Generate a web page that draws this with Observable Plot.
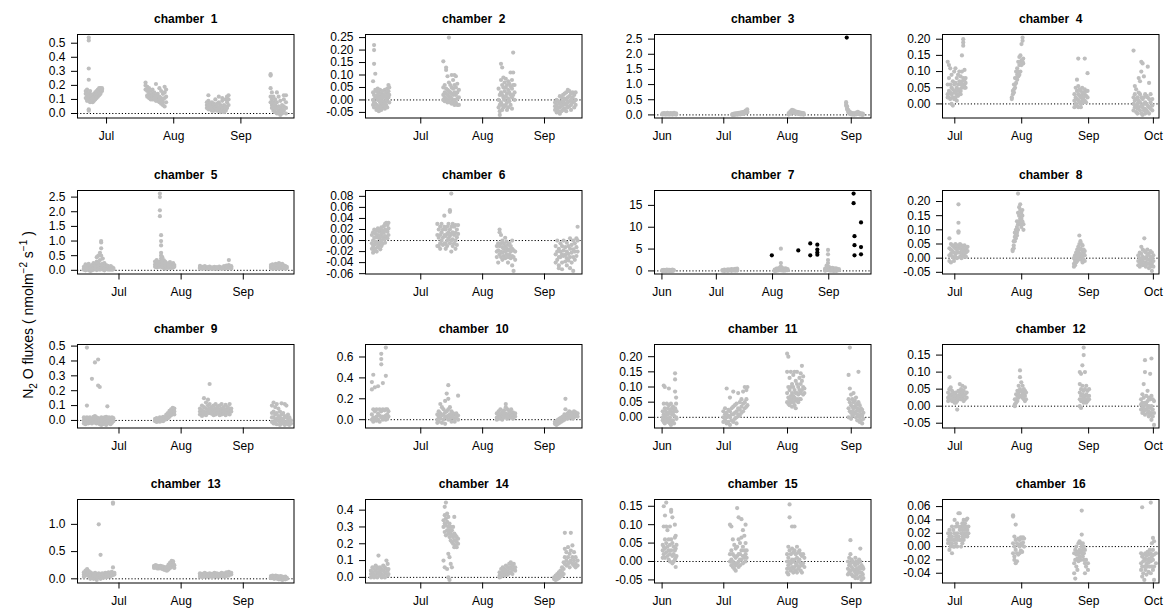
<!DOCTYPE html>
<html><head><meta charset="utf-8">
<script src="https://cdn.jsdelivr.net/npm/d3@7"></script>
<script src="https://cdn.jsdelivr.net/npm/@observablehq/plot@0.6"></script>
<style>
body{margin:0;background:#fff;}
#chart{position:relative;width:1164px;height:609px;overflow:hidden;font-family:"Liberation Sans",Arial,sans-serif;}
#chart svg{position:absolute;overflow:visible;}
</style></head><body><div id="chart"></div>
<script>
// day numbers counted from 1 June (Jun 1 = 0)
const monthDays = [0, 30, 61, 92, 122];
const monthNames = ["Jun", "Jul", "Aug", "Sep", "Oct"];
const titles = d3.range(1, 17).map(n => "chamber\u00a0 " + n);

// each row: [day, value, value, ...]
const c1 = [
[20.4,0.14,0.11,0.16],[21.0,0.12,0.15,0.09,0.17],[21.8,0.54,0.52,0.32,0.24,0.13,0.10,0.03,0.02],[22.4,0.11,0.14,0.08,0.16],
[23.0,0.09,0.12,0.10,0.13],[23.6,0.08,0.11,0.13,0.10],[24.2,0.09,0.12,0.10,0.14],[24.8,0.11,0.13,0.15,0.10],[25.4,0.12,0.14,0.16,0.11],
[26.0,0.13,0.15,0.17,0.12],[26.6,0.14,0.16,0.18,0.13],[27.2,0.15,0.17,0.18,0.14],[27.9,0.16,0.18,0.17],
[48.0,0.22,0.2,0.17],[48.8,0.19,0.16,0.13,0.12],[49.6,0.18,0.14,0.12,0.11],[50.4,0.16,0.13,0.11,0.10],[51.2,0.17,0.12,0.10,0.14],
[52.0,0.15,0.11,0.10,0.13],[52.8,0.21,0.12,0.10,0.09],[53.6,0.14,0.11,0.09,0.12],[54.4,0.18,0.10,0.08,0.12],[55.2,0.16,0.11,0.09,0.07],
[56.0,0.14,0.10,0.08,0.06],[56.8,0.19,0.15,0.11,0.05],[57.5,0.17,0.12,0.08],
[76.3,0.08,0.06,0.04],[77.0,0.13,0.09,0.07,0.05,0.03],[77.8,0.07,0.05,0.03,0.06],[78.6,0.06,0.04,0.02,0.08],[79.4,0.05,0.03,0.07,0.02],
[80.2,0.10,0.06,0.04,0.03],[81.0,0.05,0.03,0.02,0.07],[81.8,0.12,0.08,0.04,0.02],[82.6,0.06,0.03,0.01,0.05],[83.4,0.09,0.04,0.02,0.11],
[84.2,0.06,0.03,0.01,0.04],[85.0,0.10,0.05,0.02,0.03],[85.6,0.12,0.08,0.04],[86.3,0.13,0.10,0.06],
[105.7,0.28,0.27,0.18,0.12,0.08],[106.3,0.15,0.10,0.06,0.04],[107.0,0.12,0.08,0.05,0.02],[107.8,0.10,0.06,0.03,0.01],[108.6,0.15,0.08,0.04,0.0],
[109.4,0.12,0.05,0.02,0.0],[110.2,0.09,0.04,0.01,-0.01],[111.0,0.06,0.03,0.0],[111.8,0.13,0.10,0.05,0.02],[112.8,0.13,0.08,0.04,0.0]];
const c2 = [
[6.1,0.075,0.03,0.0,-0.02],[6.6,0.22,0.2,0.145,0.02,-0.01,-0.03],[7.2,0.105,0.04,0.01,-0.015],[7.8,0.035,0.01,-0.02,-0.04],[8.4,0.045,0.02,0.0,-0.03],
[9.0,0.03,0.005,-0.025,-0.045],[9.6,0.04,0.015,-0.01,-0.035],[10.2,0.025,0.0,-0.02,-0.04],[10.8,0.035,0.01,-0.015,-0.03],[11.4,0.02,-0.005,-0.025],
[12.0,0.04,0.015,-0.01,-0.035],[12.6,0.03,0.005,-0.02],[13.2,0.045,0.02,-0.005,-0.03],[13.8,0.06,0.035,0.01],[14.2,0.05,0.02,-0.01],
[41.3,0.155,0.05,0.02,0.0],[42.0,0.06,0.03,0.01,-0.005],[42.7,0.13,0.12,0.045,0.025,0.005],[43.4,0.095,0.04,0.02,0.0,-0.01],[44.1,0.25,0.07,0.035,0.015,-0.005],
[44.8,0.06,0.03,0.01,-0.01],[45.5,0.1,0.05,0.025,0.005,-0.015],[46.2,0.08,0.045,0.02,-0.01],[46.9,0.1,0.06,0.03,0.0,-0.02],[47.6,0.095,0.05,0.02,-0.01],
[48.3,0.065,0.03,0.005,-0.02],[49.1,0.04,0.01,-0.02],
[69.0,0.045,0.0,-0.03],[69.6,0.02,-0.02,-0.06,-0.045],[70.2,0.145,0.08,0.03,-0.01],[70.8,0.13,0.06,0.02,-0.02,-0.04],[71.4,0.09,0.05,0.01,-0.03],
[72.0,0.07,0.035,0.0,-0.025],[72.6,0.085,0.05,0.015,-0.02],[73.2,0.06,0.025,-0.01,-0.04],[73.8,0.075,0.04,0.005,-0.03],[74.4,0.065,0.03,-0.005],
[75.0,0.11,0.055,0.02,-0.02],[75.7,0.08,0.045,0.01,-0.035],[76.3,0.19,0.11,0.06,0.02],[77.0,0.06,0.03,0.0],
[97.3,-0.01,-0.025,-0.04],[98.1,0.0,-0.02,-0.035,-0.05],[98.9,-0.005,-0.03,-0.045],[99.7,0.015,-0.015,-0.03,-0.055],[100.5,0.01,-0.01,-0.025,-0.045],
[101.3,0.02,-0.005,-0.02,-0.04],[102.1,0.025,0.005,-0.015,-0.035],[102.9,0.03,0.0,-0.02,-0.045],[103.7,0.04,0.01,-0.01,-0.03],[104.5,0.035,0.015,-0.005,-0.025],
[105.3,0.025,0.0,-0.02,-0.04],[106.1,0.03,0.01,-0.01],[106.9,0.02,-0.005,-0.03],[107.6,0.03,0.0,-0.02]];
const c3 = [
[0.2,0.05,0.03,0.01],[1.0,0.06,0.04,0.02],[1.8,0.05,0.03,0.01],[2.6,0.07,0.04,0.02],[3.4,0.05,0.03,0.01],[4.2,0.06,0.04,0.02],[5.0,0.05,0.03,0.01],[5.8,0.07,0.04,0.02],[6.8,0.05,0.03,0.01],
[34.2,0.03,0.01,0.0],[35.0,0.04,0.02,0.0],[35.8,0.05,0.03,0.01],[36.6,0.06,0.03,0.01],[37.4,0.07,0.04,0.02],[38.2,0.08,0.05,0.02],[39.0,0.09,0.06,0.03],[39.8,0.1,0.07,0.04],[40.6,0.14,0.1,0.06],[41.4,0.18,0.12,0.08],
[61.6,0.06,0.03,0.01],[62.4,0.12,0.08,0.04],[63.2,0.17,0.13,0.09],[64.0,0.15,0.11,0.07],[64.8,0.12,0.09,0.05],[65.6,0.1,0.07,0.04],[66.4,0.09,0.06,0.03],[67.2,0.08,0.05,0.02],[68.0,0.07,0.04,0.02],[68.8,0.06,0.03,0.01],
[89.5,0.42,0.36,0.3],[90.0,0.28,0.22,0.18],[90.6,0.16,0.12,0.08],[91.3,0.1,0.06,0.03],[92.0,0.07,0.04,0.02],[92.8,0.06,0.03,0.01],[93.6,0.05,0.03,0.01],[94.4,0.08,0.04,0.02],[95.2,0.1,0.06,0.03],[96.0,0.07,0.04,0.02],[96.8,0.05,0.03,0.01],[97.6,0.04,0.02,0.0]];
const out3 = [[89.8, 2.55]];
const c4 = [
[26.7,0.13,0.06,0.03,0.02],[27.3,0.12,0.08,0.04,0.02],[27.9,0.11,0.06,0.035,0.015],[28.5,0.09,0.05,0.03,0.0],[29.1,0.07,0.045,0.02,-0.005],
[29.7,0.1,0.06,0.035,0.015],[30.3,0.11,0.065,0.04,0.02],[30.9,0.08,0.05,0.03,0.01],[31.5,0.09,0.06,0.04,0.025],[32.1,0.1,0.07,0.045,0.03],
[32.7,0.085,0.06,0.04,0.03],[33.3,0.15,0.1,0.07,0.05],[33.9,0.2,0.19,0.18,0.08,0.06],[34.5,0.105,0.075,0.06,0.05],[35.0,0.08,0.065,0.05],
[56.4,0.02,0.015],[56.9,0.04,0.03],[57.4,0.06,0.045,0.035],[57.9,0.08,0.06,0.05],[58.4,0.1,0.08,0.065],[58.9,0.11,0.09,0.075],
[59.4,0.13,0.1,0.085],[59.9,0.145,0.12,0.09],[60.4,0.15,0.13,0.1],[60.9,0.185,0.135,0.12],[61.4,0.205,0.195,0.13],[61.7,0.14,0.125],
[85.4,0.03,0.01,-0.01],[86.0,0.05,0.02,0.0],[86.6,0.075,0.04,0.015,-0.005],[87.2,0.14,0.055,0.03,0.01,-0.01],[87.8,0.045,0.025,0.005],
[88.4,0.04,0.02,0.0,-0.01],[89.0,0.05,0.03,0.01],[89.6,0.035,0.02,0.005],[90.2,0.14,0.045,0.03,0.01],[90.8,0.04,0.025,0.005],[91.5,0.095,0.04,0.02],
[112.8,0.165,0.02,0.0,-0.02],[113.4,0.055,0.03,0.01,-0.01],[114.0,0.045,0.015,-0.005,-0.025],[114.6,0.02,0.0,-0.015,-0.03],[115.2,0.08,0.035,0.01,-0.01],
[115.8,0.07,0.03,0.005,-0.02],[116.4,0.13,0.1,0.02,-0.005,-0.03],[117.0,0.125,0.015,-0.01,-0.034],[117.6,0.085,0.02,0.0,-0.02],[118.2,0.03,0.005,-0.015,-0.03],
[118.8,0.025,0.0,-0.02],[119.4,0.115,0.02,-0.005,-0.025],[120.0,0.065,0.015,-0.01,-0.03],[120.7,0.03,0.005,-0.015],[121.5,0.015,-0.005,-0.02]];
const c5 = [
[12.5,0.12,0.06,0.02],[13.3,0.2,0.1,0.04,0.0],[14.1,0.15,0.08,0.03],[14.9,0.22,0.12,0.05,0.01],[15.7,0.1,0.05,-0.02],[16.5,0.18,0.09,0.04,0.0],
[17.3,0.25,0.14,0.06,0.02],[18.1,0.2,0.1,0.04],[18.9,0.45,0.3,0.15,0.05,0.01],[19.7,0.5,0.25,0.12,0.04],[20.5,0.6,0.35,0.18,0.08,0.02],
[21.1,1.0,0.95,0.75,0.5,0.2,0.06],[21.9,0.4,0.22,0.1,0.03],[22.7,0.25,0.12,0.05,0.0],[23.5,0.18,0.1,0.04],[24.3,0.15,0.08,0.03],
[25.1,0.12,0.06,0.02],[25.9,0.14,0.08,0.03],[26.6,0.1,0.05,0.02],[27.2,0.08,0.04],
[48.0,0.3,0.2,0.12],[48.8,0.35,0.22,0.15,0.1],[49.6,0.28,0.18,0.12],[50.4,2.62,2.5,2.05,1.85,0.3,0.2,0.12],[51.0,1.2,1.0,0.85,0.6,0.5,0.4,0.25,0.15],
[51.6,0.45,0.3,0.2,0.1],[52.3,0.35,0.25,0.15,0.08],[53.0,0.3,0.2,0.12,0.06],[53.8,0.25,0.16,0.1],[54.6,0.22,0.15,0.08],[55.4,0.28,0.18,0.1],
[56.2,0.2,0.14,0.08],[57.0,0.25,0.16,0.1],[57.6,0.18,0.12],
[70.4,0.15,0.1,0.06],[71.6,0.12,0.08,0.05],[72.8,0.14,0.1,0.06],[74.0,0.11,0.08,0.05],[75.2,0.13,0.09,0.06],[76.4,0.1,0.07,0.05],[77.6,0.12,0.08,0.05],
[78.8,0.11,0.08,0.05],[80.0,0.13,0.09,0.06],[81.2,0.1,0.07,0.05],[82.4,0.14,0.1,0.06],[83.6,0.16,0.11,0.07],[84.8,0.35,0.18,0.12,0.08],[86.0,0.14,0.1,0.06],
[105.8,0.18,0.12,0.08],[106.6,0.2,0.14,0.09,0.05],[107.4,0.16,0.11,0.07],[108.2,0.22,0.15,0.1,0.06],[109.0,0.18,0.12,0.08],[109.8,0.25,0.16,0.1,0.05],
[110.6,0.2,0.13,0.08],[111.4,0.22,0.15,0.1,0.06],[112.2,0.17,0.12,0.07],[113.0,0.14,0.09,0.05],[113.7,0.12,0.08]];
const c6 = [
[5.5,0.01,-0.005,-0.015],[6.1,0.015,0.0,-0.01,-0.022],[6.7,0.02,0.005,-0.008,-0.018],[7.3,0.012,-0.002,-0.015],[7.9,0.018,0.006,-0.006,-0.02],
[8.5,0.022,0.01,-0.004,-0.012],[9.1,0.016,0.004,-0.008],[9.7,0.02,0.008,-0.004,-0.016],[10.3,0.024,0.012,0.0,-0.01],[10.9,0.018,0.006,-0.006],
[11.5,0.026,0.014,0.002],[12.1,0.03,0.02,0.008,-0.004],[12.7,0.032,0.018,0.006],[13.3,0.028,0.016,0.004],[13.8,0.032,0.022,0.01],
[38.3,0.03,0.01,-0.01],[39.0,0.02,0.005,-0.01],[39.7,0.025,0.01,-0.005,-0.015],[40.4,0.03,0.015,0.0],[41.1,0.02,0.005,-0.008],
[41.8,0.045,0.025,0.01,-0.005],[42.5,0.02,0.008,-0.006,-0.015],[43.2,0.025,0.012,0.0,-0.01],[43.9,0.03,0.015,0.004],[44.6,0.055,0.052,0.02,0.008,-0.005],
[45.3,0.085,0.025,0.012,0.0,-0.02],[46.0,0.03,0.015,0.002,-0.01],[46.7,0.025,0.01,-0.005],[47.4,0.028,0.014,0.0,-0.015],[48.1,0.02,0.006,-0.008],[48.7,0.028,0.012],
[68.1,-0.01,-0.02,-0.03],[68.8,-0.005,-0.018,-0.04],[69.5,0.02,0.015,-0.01,-0.025],[70.2,0.01,-0.005,-0.02,-0.03],[70.9,0.0,-0.012,-0.022,-0.035],
[71.6,-0.005,-0.015,-0.028],[72.3,0.005,-0.01,-0.02,-0.032],[73.0,-0.002,-0.014,-0.025],[73.7,-0.008,-0.018,-0.03,-0.04],[74.4,-0.005,-0.016,-0.026],
[75.1,-0.01,-0.02,-0.032],[75.8,0.0,-0.015,-0.028,-0.045],[76.5,-0.018,-0.03,-0.055],[77.3,-0.02,-0.035],
[97.6,-0.01,-0.025,-0.04],[98.4,0.0,-0.02,-0.035],[99.2,-0.015,-0.03,-0.045,-0.05],[100.0,-0.005,-0.02,-0.03],[100.8,-0.01,-0.025,-0.04,-0.052],
[101.6,0.0,-0.018,-0.028],[102.4,-0.012,-0.026,-0.038],[103.2,-0.004,-0.02,-0.032,-0.045],[104.0,-0.01,-0.024,-0.036],[104.8,0.004,-0.015,-0.03,-0.05],
[105.6,-0.008,-0.022,-0.04],[106.4,0.0,-0.016,-0.03,-0.055],[107.2,-0.005,-0.02,-0.035],[108.0,0.004,-0.012,-0.028],[108.6,0.025,0.0,-0.02]];
const c7 = [
[0.3,0.2,0.1,0.0],[1.1,0.25,0.1,0.02],[1.9,0.2,0.08,0.0],[2.7,0.3,0.12,0.03],[3.5,0.22,0.1,0.01],[4.3,0.25,0.1,0.02],[5.1,0.2,0.08,0.0],[5.8,0.28,0.12,0.03],[6.5,0.2,0.08],
[33.4,0.2,0.05],[34.4,0.3,0.1,0.0],[35.4,0.25,0.08],[36.4,0.35,0.12,0.02],[37.4,0.3,0.1],[38.4,0.4,0.15,0.03],[39.4,0.35,0.12],[40.4,0.45,0.2,0.05],[41.5,0.5,0.25,0.08],
[62.2,0.3,0.1,0.0],[63.2,0.5,0.2,0.05],[64.2,0.6,0.3,0.1],[65.2,0.8,0.4,0.15],[65.6,5.1,1.8,1.0],[66.2,0.7,0.4,0.1],[67.2,0.5,0.25,0.05],[68.2,0.6,0.3,0.1],[69.3,0.4,0.15],
[90.0,0.5,0.2,0.05],[90.8,1.2,0.6,0.2],[91.6,4.8,3.8,2.5,1.8,1.0],[92.4,0.8,0.4,0.1],[93.2,0.6,0.3,0.05],[94.0,0.7,0.35,0.1],[94.8,0.5,0.2,0.0],[95.6,0.6,0.3,0.08],[96.4,0.5,0.2,0.02],[97.6,0.4,0.15]];
const out7 = [[60.6,3.56],[75.2,4.7],[81.8,6.3],[81.8,3.56],[85.7,6.0],[85.7,4.9],[85.7,4.2],[85.7,3.7],
[105.7,17.7],[105.7,15.5],[106.2,7.95],[106.2,5.9],[106.2,3.56],[109.8,11.1],[109.8,5.45],[109.8,3.8]];
const c8 = [
[27.5,0.07,0.035,0.01,-0.01],[28.2,0.05,0.03,0.015,-0.015],[28.9,0.045,0.025,0.005],[29.6,0.04,0.02,0.0,-0.01],[30.3,0.05,0.035,0.015,0.005],
[31.0,0.045,0.03,0.02,0.0],[31.7,0.19,0.125,0.095,0.09,0.04,0.02],[32.4,0.05,0.035,0.02,0.005],[33.1,0.045,0.03,0.015,0.0],[33.8,0.04,0.025,0.01],
[34.5,0.045,0.03,0.015,0.005],[35.2,0.035,0.02,0.005],[35.9,0.04,0.025],
[56.8,0.03,0.025],[57.3,0.06,0.045,0.035],[57.8,0.09,0.075,0.06],[58.3,0.1,0.085,0.07],[58.8,0.13,0.11,0.09,0.08],[59.3,0.228,0.16,0.12,0.1],
[59.8,0.18,0.15,0.13],[60.3,0.19,0.17,0.14,0.12],[60.8,0.16,0.14,0.11],[61.3,0.17,0.15,0.13],[61.8,0.12,0.1],
[85.2,0.0,-0.02,-0.03],[85.7,0.01,-0.01,-0.025],[86.2,0.02,0.0,-0.015],[86.7,0.03,0.01,-0.01],[87.2,0.04,0.02,0.0],[87.7,0.08,0.05,0.03,0.01],
[88.2,0.06,0.035,0.015,-0.005],[88.7,0.05,0.03,0.01],[89.2,0.045,0.025,0.005,-0.015],[89.7,0.03,0.015,-0.005],[90.2,0.025,0.01,-0.01],
[115.0,0.01,-0.01,-0.025],[115.7,0.02,0.0,-0.015,-0.03],[116.4,0.04,0.015,-0.005,-0.02],[117.1,0.03,0.005,-0.01,-0.025],[117.8,0.07,0.025,0.0,-0.02],
[118.5,0.02,0.0,-0.015,-0.03],[119.2,0.03,0.01,-0.005,-0.02],[119.9,0.015,-0.005,-0.02,-0.035],[120.6,0.025,0.005,-0.01,-0.03],[121.3,0.02,0.0,-0.02,-0.045],[122.0,0.01,-0.01,-0.03]];
const c9 = [
[12.5,0.02,0.0,-0.02],[13.3,0.01,-0.01,-0.025],[14.0,0.49,0.1,0.02,-0.01],[14.7,0.015,0.0,-0.02],[15.5,0.02,0.0,-0.015],[16.5,0.28,0.01,-0.01,-0.02],
[17.3,0.025,0.005,-0.01],[18.0,0.39,0.03,0.01,-0.015],[18.8,0.02,0.0,-0.02],[19.6,0.41,0.235,0.015,-0.01],[20.4,0.225,0.01,-0.005,-0.025],
[21.2,0.02,0.0,-0.02,-0.03],[22.0,0.015,-0.005,-0.025],[22.8,0.02,0.0,-0.02],[23.6,0.025,0.005,-0.015,-0.03],[24.2,0.095,0.01,-0.01],
[25.0,0.02,0.0,-0.02],[25.8,0.015,-0.005,-0.025],[26.5,0.02,0.0,-0.015],[27.2,0.015,-0.005],
[48.0,0.01,-0.005],[48.8,0.015,0.0,-0.01],[49.6,0.01,-0.005],[50.4,0.02,0.005,-0.008],[51.2,0.015,0.0],[52.0,0.025,0.01,-0.005],[52.8,0.02,0.005],
[53.6,0.04,0.02,0.008],[54.4,0.05,0.03,0.015],[55.2,0.065,0.045,0.025],[56.0,0.075,0.055,0.035],[56.8,0.085,0.065,0.045],[57.6,0.08,0.06,0.04],
[70.4,0.08,0.06,0.04],[71.4,0.1,0.07,0.05,0.03],[72.4,0.15,0.09,0.06,0.04],[73.4,0.12,0.08,0.055,0.035],[74.4,0.14,0.1,0.07,0.05],[75.2,0.245,0.11,0.08,0.05],
[76.2,0.09,0.065,0.045],[77.2,0.1,0.075,0.05,0.035],[78.2,0.11,0.08,0.06,0.04],[79.2,0.095,0.07,0.05],[80.2,0.1,0.075,0.055,0.035],[81.2,0.11,0.08,0.06,0.04],
[82.2,0.09,0.065,0.045],[83.2,0.105,0.075,0.055,0.035],[84.2,0.09,0.07,0.05],[85.2,0.11,0.08,0.06,0.04],[86.0,0.08,0.06],
[106.3,0.1,0.05,0.02,-0.01],[107.1,0.12,0.06,0.02,-0.02],[107.9,0.09,0.04,0.0,-0.02],[108.7,0.11,0.05,0.01,-0.025],[109.5,0.08,0.03,0.0],
[110.3,0.06,0.02,-0.01,-0.03],[111.1,0.115,0.04,0.0,-0.02],[111.9,0.05,0.01,-0.02],[112.7,0.11,0.03,-0.01,-0.03],[113.5,0.1,0.02,-0.015],
[114.3,0.04,0.0,-0.025],[115.0,0.02,-0.01,-0.03],[115.8,0.0,-0.02]];
const c10 = [
[5.5,0.36,0.29,0.05,0.0],[6.2,0.43,0.1,0.02,-0.02],[7.0,0.31,0.08,0.01],[7.8,0.1,0.03,-0.01],[8.6,0.32,0.06,0.0],[9.4,0.1,0.04,-0.02],
[10.2,0.63,0.58,0.53,0.08,0.02],[11.0,0.35,0.1,0.03,0.0],[11.8,0.09,0.02],[12.5,0.69,0.42,0.1,0.04,0.0],[13.2,0.1,0.05,0.01],[13.8,0.08,0.03],
[38.3,0.05,0.0,-0.03],[39.0,0.08,0.03,-0.02],[39.8,0.15,0.06,0.01],[40.6,0.12,0.04,-0.03],[41.4,0.1,0.05,0.0],[42.2,0.18,0.07,0.02,-0.04],
[43.0,0.25,0.08,0.03],[43.8,0.33,0.2,0.1,0.04,0.0],[44.6,0.12,0.05,0.01],[45.4,0.08,0.03,-0.02],[46.2,0.06,0.02],[47.0,0.05,0.01,-0.02],[47.8,0.06,0.02],[48.7,0.23,0.04,0.0],
[68.1,0.06,0.02,0.0],[69.0,0.08,0.04,0.01],[69.9,0.1,0.05,0.02],[70.8,0.07,0.03,0.0],[71.7,0.09,0.05,0.02],[72.6,0.15,0.12,0.06,0.03],
[73.5,0.1,0.05,0.01],[74.4,0.08,0.04,0.02],[75.3,0.1,0.06,0.03],[76.2,0.07,0.04,0.01],[77.3,0.06,0.03],
[97.2,-0.02,-0.04],[98.0,-0.01,-0.03,-0.05],[98.8,0.0,-0.02,-0.04],[99.6,0.01,-0.01,-0.03],[100.4,0.02,0.0,-0.02],[101.2,0.03,0.01,-0.01],
[102.0,0.05,0.02,0.0],[102.5,0.2,0.1,0.03],[103.6,0.06,0.03,0.01],[104.4,0.08,0.04,0.02],[105.2,0.07,0.04,0.02],[106.0,0.06,0.03,0.01],
[106.8,0.08,0.05,0.02],[107.6,0.07,0.04],[108.6,0.06,0.03]];
const c11 = [
[0.3,0.02,0.0,-0.01],[0.8,0.105,0.045,0.01,-0.015],[1.3,0.1,0.03,0.0,-0.02],[1.8,0.02,0.005,-0.01],[2.3,0.045,0.015,-0.005],[2.8,0.03,0.01,-0.015],
[3.3,0.095,0.04,0.015,-0.005],[3.8,0.025,0.0,-0.02],[4.3,0.045,0.02,-0.01,-0.025],[4.8,0.03,0.01,-0.015],[5.3,0.035,0.015,-0.01],[5.8,0.025,0.005,-0.02],
[6.3,0.145,0.125,0.085,0.03],[6.8,0.065,0.045,0.02,0.0],[7.0,0.02,-0.005],
[29.8,0.02,0.0,-0.015],[30.6,0.03,0.01,-0.01],[31.4,0.095,0.015,0.0,-0.02],[32.2,0.025,0.005,-0.015],[33.0,0.065,0.02,0.0,-0.025],[33.8,0.03,0.01,-0.01],
[34.6,0.085,0.035,0.01,-0.015],[35.4,0.04,0.015,-0.005],[36.2,0.045,0.02,0.0,-0.02],[37.0,0.08,0.03,0.01],[37.8,0.05,0.025,0.005],[38.6,0.06,0.035,0.015],
[39.4,0.085,0.045,0.02],[40.2,0.1,0.05,0.03],[41.0,0.09,0.06,0.035],[41.5,0.1,0.04],
[60.8,0.21,0.15,0.08,0.05],[61.4,0.2,0.1,0.065,0.045],[62.0,0.13,0.09,0.06,0.04],[62.6,0.15,0.1,0.07,0.05],[63.2,0.11,0.08,0.06,0.035],
[63.8,0.14,0.1,0.07,0.05],[64.4,0.15,0.09,0.065,0.04],[65.0,0.12,0.08,0.055,0.03],[65.6,0.15,0.11,0.08,0.06],[66.2,0.1,0.075,0.05],
[66.8,0.13,0.09,0.06],[67.4,0.145,0.11,0.08,0.06],[68.0,0.17,0.12,0.09],[68.6,0.135,0.1,0.075],[69.2,0.095,0.08],
[90.7,0.14,0.06,0.03,0.0],[91.3,0.23,0.095,0.05,0.02],[91.9,0.075,0.04,0.015,-0.005],[92.5,0.06,0.035,0.02,0.005],[93.1,0.08,0.05,0.03,0.01],
[93.7,0.055,0.035,0.015],[94.3,0.065,0.04,0.02,0.0],[94.9,0.045,0.03,0.01,-0.01],[95.5,0.15,0.05,0.025,0.005],[96.1,0.04,0.02,0.0,-0.015],
[96.7,0.03,0.01,-0.01],[97.3,0.025,0.005,-0.02],[97.9,0.015,-0.005]];
const c12 = [
[26.9,0.04,0.025,0.015],[27.5,0.085,0.05,0.03,0.02],[28.1,0.055,0.035,0.02],[28.7,0.045,0.03,0.015],[29.3,0.04,0.025,0.015],[29.9,0.035,0.02,0.01],
[30.5,0.04,0.025,0.01],[31.1,0.03,0.015,-0.01],[31.7,0.045,0.03,0.02],[32.3,0.065,0.04,0.025],[32.9,0.05,0.035,0.02],[33.5,0.06,0.04,0.025],
[34.1,0.045,0.03,0.015],[34.7,0.055,0.035,0.02],[35.5,0.04,0.025],
[57.8,0.02,0.005,0.0],[58.4,0.035,0.02,0.01],[59.0,0.045,0.03,0.015],[59.6,0.06,0.04,0.025],[60.2,0.105,0.085,0.05,0.03],[60.8,0.07,0.045,0.03],
[61.4,0.06,0.04,0.025],[62.0,0.05,0.035,0.02],[62.5,0.045,0.03,0.015],[63.0,0.04,0.02],
[87.9,0.1,0.065,0.04,0.02,0.0],[88.5,0.095,0.05,0.03,0.015,-0.005],[89.1,0.12,0.06,0.035,0.02],[89.7,0.172,0.15,0.045,0.025,0.01],
[90.3,0.1,0.05,0.03,0.015],[90.9,0.06,0.035,0.02,0.01],[91.5,0.045,0.03,0.015],[92.2,0.05,0.03,0.02],
[116.3,0.02,0.005,-0.01],[116.9,0.035,0.01,-0.005,-0.02],[117.5,0.065,0.025,0.0,-0.015],[118.1,0.135,0.1,0.01,-0.01,-0.025],[118.7,0.03,0.005,-0.01],
[119.3,0.045,0.015,-0.005,-0.02],[119.9,0.025,0.0,-0.015,-0.03],[120.5,0.095,0.02,-0.005,-0.025],[121.1,0.14,0.03,0.0,-0.02,-0.04],
[121.7,0.02,-0.01,-0.03],[122.3,0.015,-0.02,-0.055]];
const c13 = [
[12.5,0.12,0.08,0.04],[13.3,0.15,0.1,0.06],[14.1,0.18,0.12,0.07],[14.9,0.14,0.09,0.05],[15.7,0.12,0.08,0.04,0.0],[16.5,0.1,0.06,0.02],
[17.3,0.09,0.05,0.0],[18.1,0.11,0.07,0.03],[18.9,0.08,0.04,-0.02],[19.9,1.0,0.1,0.06,0.02],[20.8,0.44,0.08,0.04,0.0],[21.6,0.1,0.06,0.03],
[22.4,0.09,0.05,0.02],[23.2,0.11,0.07,0.04],[24.0,0.1,0.06,0.03],[24.8,0.12,0.08,0.05],[25.6,0.1,0.07,0.04],[26.4,0.13,0.09,0.06],
[27.0,1.4,1.38,0.21,0.1,0.07],[27.7,0.11,0.08],
[47.5,0.24,0.22,0.2],[48.3,0.25,0.23,0.21],[49.1,0.24,0.22,0.19],[49.9,0.23,0.21,0.19],[50.7,0.24,0.22,0.2],[51.5,0.23,0.2,0.18],[52.3,0.22,0.19,0.17],
[53.1,0.2,0.18,0.16],[53.9,0.22,0.19,0.15],[54.7,0.26,0.22,0.17],[55.5,0.3,0.26,0.2],[56.3,0.33,0.3,0.24],[57.0,0.32,0.28,0.22],[57.6,0.25,0.2],
[70.4,0.1,0.07,0.04],[71.6,0.09,0.06,0.03],[72.8,0.11,0.07,0.04],[74.0,0.09,0.06,0.04],[75.2,0.1,0.07,0.05],[76.4,0.09,0.06,0.03],[77.6,0.11,0.08,0.05],
[78.8,0.1,0.07,0.04],[80.0,0.09,0.06,0.04],[81.2,0.11,0.08,0.05],[82.4,0.1,0.07,0.04],[83.6,0.12,0.08,0.05],[84.8,0.13,0.09,0.06],[86.0,0.11,0.08],
[105.8,0.05,0.03,0.01],[106.6,0.06,0.04,0.02],[107.4,0.05,0.03,0.0],[108.2,0.06,0.04,0.01],[109.0,0.05,0.02,0.0],[109.8,0.04,0.02,-0.01],
[110.6,0.05,0.03,0.0],[111.4,0.04,0.01,-0.02],[112.2,0.03,0.01,-0.01],[113.0,0.04,0.02,-0.01],[113.7,0.02,0.0]];
const c14 = [
[5.0,0.04,0.02,0.0],[5.8,0.06,0.03,0.01],[6.6,0.05,0.02,0.0],[7.4,0.07,0.04,0.01],[8.2,0.06,0.03,0.0],[8.8,0.13,0.05,0.02],[9.6,0.06,0.035,0.01],
[10.4,0.05,0.02,0.0],[11.2,0.07,0.04,0.01],[12.0,0.06,0.03,0.0],[12.8,0.1,0.05,0.02],[13.4,0.08,0.04,0.01],[13.8,0.05,0.02],
[41.4,0.34,0.3,0.1],[42.0,0.42,0.37,0.32,0.27,0.06],[42.6,0.445,0.35,0.31,0.25],[43.2,0.38,0.33,0.28,0.05],[43.8,0.36,0.3,0.26,0.14,0.0],
[44.4,0.32,0.28,0.24,0.12,-0.015],[45.0,0.3,0.26,0.22,0.08],[45.6,0.28,0.25,0.21,0.06],[46.2,0.3,0.24,0.2],[46.8,0.36,0.26,0.22,0.18],
[47.4,0.25,0.22,0.19],[48.0,0.24,0.21,0.18],[48.7,0.23,0.2],
[69.5,0.03,0.01,0.0],[70.3,0.05,0.02,0.005],[71.1,0.06,0.035,0.015],[71.9,0.05,0.03,0.01],[72.7,0.07,0.04,0.02],[73.5,0.06,0.035,0.015],
[74.3,0.08,0.05,0.025],[75.1,0.09,0.06,0.03],[75.9,0.07,0.045,0.02],[76.6,0.08,0.05],[77.3,0.06,0.04],
[96.8,0.0,-0.01],[97.6,0.01,-0.005,-0.015],[98.4,0.02,0.0,-0.01],[99.2,0.03,0.01,-0.005],[100.0,0.04,0.02,0.005],[100.8,0.06,0.03,0.01],
[101.6,0.09,0.05,0.02],[102.2,0.265,0.17,0.12,0.08],[103.0,0.15,0.1,0.07],[103.8,0.18,0.12,0.08],[104.6,0.14,0.09,0.06],[105.2,0.265,0.16,0.1],
[106.0,0.19,0.12,0.08],[106.8,0.15,0.1,0.07],[107.6,0.12,0.08,0.06],[108.6,0.1,0.07]];
const c15 = [
[0.3,0.045,0.03,0.01],[0.8,0.15,0.095,0.04,0.02],[1.4,0.125,0.06,0.035,0.01],[2.0,0.16,0.095,0.05,0.025],[2.6,0.085,0.04,0.015],[3.2,0.06,0.03,0.005],
[3.8,0.095,0.045,0.02,0.0],[4.4,0.14,0.135,0.06,0.03],[5.0,0.12,0.05,0.015,-0.005],[5.6,0.04,0.02,0.0],[6.2,0.1,0.065,0.03,0.005],
[6.6,0.07,0.035,0.01,-0.015],[7.0,0.045,0.015],
[33.0,0.1,0.02,0.0],[33.7,0.095,0.03,0.005,-0.01],[34.4,0.06,0.02,0.0,-0.015],[35.1,0.045,0.015,-0.005,-0.02],[35.8,0.035,0.01,-0.01,-0.025],
[36.5,0.145,0.04,0.015,-0.005],[37.2,0.12,0.06,0.02,0.0,-0.015],[37.9,0.05,0.02,0.005,-0.01],[38.6,0.115,0.065,0.03,0.005],
[39.3,0.085,0.04,0.015,-0.005],[40.0,0.07,0.03,0.01],[40.6,0.1,0.05,0.02,0.0],[41.1,0.03,0.01],
[60.8,0.02,0.0,-0.02,-0.03],[61.4,0.04,0.01,-0.01,-0.035],[62.0,0.155,0.12,0.03,0.0,-0.02],[62.6,0.02,-0.005,-0.025],[63.2,0.095,0.035,0.005,-0.015],
[63.8,0.025,0.0,-0.02,-0.03],[64.4,0.095,0.03,0.005,-0.015],[65.0,0.02,-0.005,-0.025],[65.6,0.04,0.01,-0.01,-0.03],[66.2,0.025,0.0,-0.02],
[66.8,0.03,0.005,-0.015],[67.4,0.02,-0.005,-0.025],[68.0,0.015,-0.01,-0.03],[68.6,0.02,-0.005],[69.2,0.01,-0.015],
[90.4,0.0,-0.02,-0.035],[91.0,0.01,-0.01,-0.03],[91.6,0.058,0.02,-0.005,-0.025],[92.2,0.005,-0.015,-0.035],[92.8,0.0,-0.02,-0.04],
[93.4,-0.005,-0.025,-0.04],[94.0,0.01,-0.01,-0.03,-0.045],[94.6,0.0,-0.02,-0.035],[95.2,-0.005,-0.025,-0.045],[95.8,0.005,-0.015,-0.03],
[96.4,0.035,0.0,-0.02,-0.04],[97.0,-0.01,-0.03,-0.05],[97.6,-0.015,-0.035],[97.9,-0.02,-0.045]];
const c16 = [
[26.9,0.02,0.01,0.005],[27.5,0.025,0.015,0.005,-0.005],[28.1,0.02,0.01,0.0],[28.7,0.03,0.015,0.005,-0.01],[29.3,0.025,0.01,0.0],
[29.9,0.04,0.02,0.01,0.0],[30.5,0.03,0.015,0.005],[31.1,0.035,0.02,0.01,0.0],[31.7,0.05,0.03,0.015],[32.3,0.05,0.025,0.01],
[32.9,0.03,0.02,0.01,0.0],[33.5,0.035,0.025,0.015,0.005],[34.1,0.04,0.03,0.02,0.01],[34.7,0.035,0.025,0.015],[35.3,0.04,0.03,0.02],
[35.8,0.042,0.025,0.015],[36.3,0.03,0.02],
[57.0,0.047,0.045,0.005,-0.01],[57.6,0.015,0.0,-0.015,-0.02],[58.2,0.033,0.01,-0.005,-0.025],[58.8,0.005,-0.01,-0.022],[59.4,0.012,0.002,-0.012],
[60.0,0.01,0.0,-0.01],[60.6,0.014,0.004,-0.006],[61.2,0.012,0.002,-0.008],[61.6,0.014,0.006],[62.1,0.012,0.0],
[85.3,-0.01,-0.025,-0.04],[85.8,-0.005,-0.02,-0.048],[86.3,0.0,-0.012,-0.03],[86.8,-0.008,-0.018,-0.035],[87.3,0.005,-0.01,-0.022],
[87.8,0.008,-0.005,-0.015],[88.3,0.005,-0.008,-0.02],[88.8,0.054,0.018,0.0,-0.01],[89.3,0.005,-0.005,-0.015],[89.8,0.0,-0.01,-0.02],
[90.3,-0.005,-0.025,-0.04],[90.8,-0.02,-0.03],[91.7,-0.025,-0.035],
[116.3,-0.01,-0.025,-0.035],[116.8,0.059,-0.015,-0.03,-0.045],[117.3,-0.012,-0.022,-0.04],[117.8,-0.018,-0.03,-0.05],[118.3,-0.01,-0.02,-0.035],
[118.8,-0.014,-0.026,-0.042],[119.3,-0.008,-0.02,-0.03],[119.8,-0.012,-0.024,-0.038],[120.3,-0.005,-0.018,-0.03],[120.8,0.066,-0.01,-0.022,-0.04],
[121.3,0.005,-0.015,-0.03],[121.8,0.013,-0.005,-0.02,-0.035],[122.3,0.008,-0.012,-0.03,-0.05],[123.2,-0.01,-0.025]];

// x domains (days) per panel
const xDomains = [
[16.6,116.5],[2.3,110.8],[-3.7,101.6],[24.3,124.6],
[9.3,117.3],[2.3,110.8],[-4.1,115.3],[24.3,124.6],
[9.3,117.3],[2.3,110.8],[-3.7,101.6],[24.3,124.6],
[9.3,117.3],[2.3,110.8],[-3.7,101.6],[24.3,124.6]];
// y tick values per panel
const yTicks = [
[0,0.1,0.2,0.3,0.4,0.5],[-0.05,0,0.05,0.1,0.15,0.2,0.25],[0,0.5,1,1.5,2,2.5],[0,0.05,0.1,0.15,0.2],
[0,0.5,1,1.5,2,2.5],[-0.06,-0.04,-0.02,0,0.02,0.04,0.06,0.08],[0,5,10,15],[-0.05,0,0.05,0.1,0.15,0.2],
[0,0.1,0.2,0.3,0.4,0.5],[0,0.2,0.4,0.6],[0,0.05,0.1,0.15,0.2],[-0.05,0,0.05,0.1,0.15],
[0,0.5,1],[0,0.1,0.2,0.3,0.4],[-0.05,0,0.05,0.1,0.15],[-0.04,-0.02,0,0.02,0.04,0.06]];

const series = [c1,c2,c3,c4,c5,c6,c7,c8,c9,c10,c11,c12,c13,c14,c15,c16];
const outliers = {2: out3, 6: out7};

const chart = document.getElementById("chart");
const colL = [77, 364.5, 653.5, 942];
const rowT = [34, 189.5, 344, 498.5];
const W = 216.5, H = 83.5, ML = 50, MT = 30, MR = 10, MB = 30;
const font = '"Liberation Sans", Arial, sans-serif';

series.forEach((rows, i) => {
  const col = i % 4, row = Math.floor(i / 4);
  const pts = rows.flatMap(([d, ...vs]) => vs.map(v => ({day: d, v})));
  const out = (outliers[i] || []).map(([d, v]) => ({day: d, v}));
  const all = pts.concat(out);
  const [y0, y1] = d3.extent(all, d => d.v);
  const pad = (y1 - y0) * 0.04;
  const xd = xDomains[i];
  const yt = yTicks[i];
  const prec = d3.precisionFixed(Math.abs(yt[1] - yt[0]) + 1e-12);
  const yfmt = d3.format("." + prec + "f");
  const xt = monthDays.filter(d => d >= xd[0] && d <= xd[1]);
  const svg = Plot.plot({
    width: W + ML + MR, height: H + MT + MB,
    marginLeft: ML, marginTop: MT, marginRight: MR, marginBottom: MB,
    x: {domain: xd},
    y: {domain: [y0 - pad, y1 + pad]},
    style: {fontFamily: font, fontSize: "12px", color: "#000", background: "transparent", overflow: "visible"},
    marks: [
      Plot.ruleY([0], {stroke: "#000", strokeDasharray: "1.2,2", strokeWidth: 1}),
      Plot.dot(pts, {x: "day", y: "v", r: 2.1, fill: "#bebebe"}),
      Plot.dot(out, {x: "day", y: "v", r: 2.1, fill: "#000"}),
      Plot.frame({stroke: "#000", strokeWidth: 1}),
      Plot.axisX({ticks: xt, tickFormat: d => monthNames[monthDays.indexOf(d)], tickSize: 6, tickPadding: 7, label: null, fontSize: 12}),
      Plot.axisY({ticks: yt, tickFormat: d => yfmt(d).replace("\u2212", "-"), tickSize: 6, tickPadding: 6, label: null, fontSize: 12}),
      Plot.text([titles[i]], {frameAnchor: "top", lineAnchor: "middle", dy: -15, fontWeight: "bold", fontSize: 12})
    ]
  });
  svg.style.position = "absolute";
  svg.style.left = (colL[col] - ML) + "px";
  svg.style.top = (rowT[row] - MT) + "px";
  chart.append(svg);
});

// shared y-axis label
const lab = d3.create("svg").attr("width", 60).attr("height", 609)
  .style("position", "absolute").style("left", "0px").style("top", "0px");
const t = lab.append("text")
  .attr("transform", "translate(33,315) rotate(-90)")
  .attr("text-anchor", "middle")
  .style("font-family", font).style("font-size", "14px").attr("fill", "#000");
t.append("tspan").text("N");
t.append("tspan").attr("dy", 4).attr("font-size", 10).text("2");
t.append("tspan").attr("dy", -4).text("\u00a0O fluxes ( nmolm");
t.append("tspan").attr("dy", -6).attr("font-size", 10).text("\u22122");
t.append("tspan").attr("dy", 6).text("\u00a0s");
t.append("tspan").attr("dy", -6).attr("font-size", 10).text("\u22121");
t.append("tspan").attr("dy", 6).text("\u00a0)");
chart.append(lab.node());
</script></body></html>
